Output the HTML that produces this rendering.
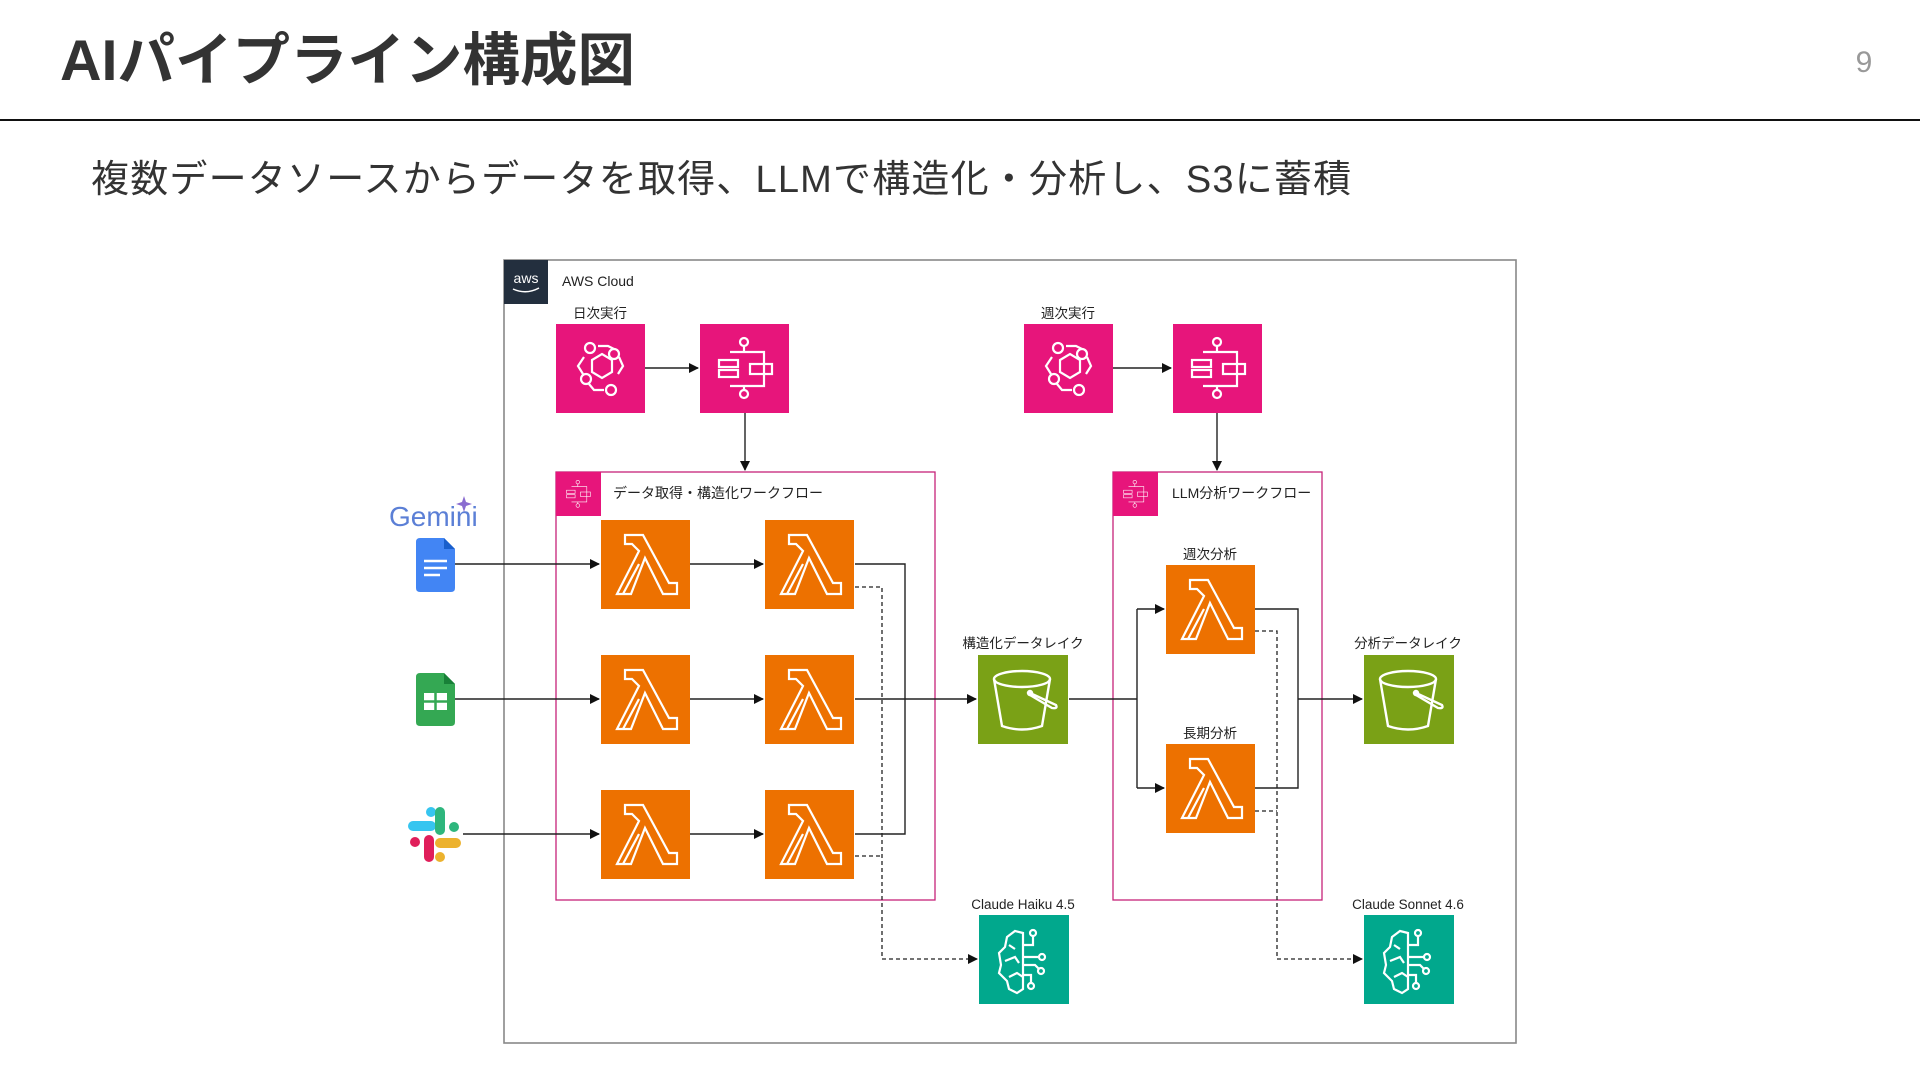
<!DOCTYPE html>
<html><head><meta charset="utf-8"><style>
html,body{margin:0;padding:0;background:#fff;width:1920px;height:1080px;overflow:hidden}
svg{display:block}
text{font-family:"Liberation Sans","Noto Sans CJK JP",sans-serif}
</style></head><body>
<svg width="1920" height="1080" viewBox="0 0 1920 1080" xmlns="http://www.w3.org/2000/svg">
<defs>
<marker id="ar" markerWidth="10" markerHeight="10" refX="9" refY="5" orient="auto" markerUnits="userSpaceOnUse"><path d="M0,0 L10,5 L0,10 Z" fill="#111"/></marker>
<g id="eb"><rect width="89" height="89" fill="#E7157B"/><g fill="none" stroke="#fff" stroke-width="2.2">
<polygon points="36,36 46,30 56,36 56,48 46,54 36,48"/><circle cx="34" cy="24" r="5"/><circle cx="58" cy="30" r="5"/><circle cx="30" cy="55" r="5"/><circle cx="55" cy="66" r="5"/>
<path d="M42,22 H52 L58,25"/><path d="M63,33 L67,42 L62,50"/><path d="M28,33 L22,42 L27,50"/><path d="M33,60 L38,66 H48"/></g></g>
<g id="sf"><rect width="89" height="89" fill="#E7157B"/><g fill="none" stroke="#fff" stroke-width="2.2">
<circle cx="44" cy="18" r="4"/><circle cx="44" cy="70" r="4"/><path d="M44,22 V28 M44,62 V66 M30,28 H64 V62 H30"/>
<rect x="19" y="36" width="19" height="7"/><rect x="19" y="46" width="19" height="7"/><rect x="50" y="40" width="22" height="10"/></g></g>
<g id="lm"><rect width="89" height="89" fill="#ED7100"/><path d="M24,15 H42 L68,63 H76 V74 H62 L44,38 L30,74 H16 L38,31 L31,24 H24 Z M38,44 L22,74" fill="none" stroke="#fff" stroke-width="2.2" stroke-linejoin="miter"/></g>
<g id="s3"><rect width="90" height="89" fill="#7AA116"/><g fill="none" stroke="#fff" stroke-width="2.4">
<ellipse cx="44" cy="24" rx="28" ry="8"/><path d="M16,24 L24,71 Q44,78 64,71 L72,24"/><path d="M52,38 L78,50 Q80,54 74,53 L52,40"/><circle cx="52" cy="38" r="2" fill="#fff"/></g></g>
<g id="bd"><rect width="90" height="89" fill="#01A88D"/><g fill="none" stroke="#fff" stroke-width="2.2">
<path d="M44,18 L36,16 L28,22 L26,32 L20,38 L22,50 L20,58 L28,66 L30,74 L38,78 L44,74 Z"/><path d="M30,30 L36,34 M26,46 L36,42 L40,48 M30,62 L38,58 L44,62"/>
<path d="M44,30 H54 V20 M44,42 H60 M44,50 H56 L60,54 M44,60 H52 V68"/><circle cx="54" cy="18" r="3"/><circle cx="63" cy="42" r="3"/><circle cx="62" cy="56" r="3"/><circle cx="52" cy="71" r="3"/></g></g>
<g id="hdr"><rect width="45" height="44" fill="#E7157B"/><g fill="none" stroke="#fff" stroke-width="1.3" transform="translate(2,2) scale(0.45)">
<circle cx="44" cy="18" r="4"/><circle cx="44" cy="70" r="4"/><path d="M44,22 V28 M44,62 V66 M30,28 H64 V62 H30"/>
<rect x="19" y="36" width="19" height="7"/><rect x="19" y="46" width="19" height="7"/><rect x="50" y="40" width="22" height="10"/></g></g>
</defs>

<text x="60" y="80" font-size="57.5" font-weight="bold" fill="#333">AIパイプライン構成図</text>
<text x="1864" y="72" font-size="30" fill="#999" text-anchor="middle">9</text>
<rect x="0" y="119" width="1920" height="2" fill="#111"/>
<text x="91" y="192" font-size="38" letter-spacing="1.2" fill="#333">複数データソースからデータを取得、LLMで構造化・分析し、S3に蓄積</text>

<rect x="504" y="260" width="1012" height="783" fill="none" stroke="#888" stroke-width="1.6"/>
<rect x="504" y="260" width="44" height="44" fill="#232F3E"/>
<text x="526" y="283" font-size="14" fill="#fff" text-anchor="middle">aws</text>
<path d="M513,289 Q526,295 539,288" fill="none" stroke="#fff" stroke-width="1.5"/>
<text x="562" y="286" font-size="14" fill="#222">AWS Cloud</text>

<rect x="556" y="472" width="379" height="428" fill="none" stroke="#C7227A" stroke-width="1.3"/>
<use href="#hdr" x="556" y="472"/>
<text x="613" y="498" font-size="14" fill="#222">データ取得・構造化ワークフロー</text>
<rect x="1113" y="472" width="209" height="428" fill="none" stroke="#C7227A" stroke-width="1.3"/>
<use href="#hdr" x="1113" y="472"/>
<text x="1172" y="498" font-size="14" fill="#222">LLM分析ワークフロー</text>

<g font-size="13.5" fill="#222" text-anchor="middle">
<text x="600" y="318">日次実行</text>
<text x="1068" y="318">週次実行</text>
<text x="1210" y="559">週次分析</text>
<text x="1210" y="738">長期分析</text>
<text x="1023" y="648">構造化データレイク</text>
<text x="1408" y="648">分析データレイク</text>
<text x="1023" y="909">Claude Haiku 4.5</text>
<text x="1408" y="909">Claude Sonnet 4.6</text>
</g>

<use href="#eb" x="556" y="324"/><use href="#sf" x="700" y="324"/>
<use href="#eb" x="1024" y="324"/><use href="#sf" x="1173" y="324"/>
<use href="#lm" x="601" y="520"/><use href="#lm" x="765" y="520"/>
<use href="#lm" x="601" y="655"/><use href="#lm" x="765" y="655"/>
<use href="#lm" x="601" y="790"/><use href="#lm" x="765" y="790"/>
<use href="#lm" x="1166" y="565"/><use href="#lm" x="1166" y="744"/>
<use href="#s3" x="978" y="655"/><use href="#s3" x="1364" y="655"/>
<use href="#bd" x="979" y="915"/><use href="#bd" x="1364" y="915"/>

<text x="389" y="526" font-size="28" fill="#5B7FD6">Gemini</text>
<path d="M464,496 l2,6 6,2 -6,2 -2,6 -2,-6 -6,-2 6,-2z" fill="#8A6CD0"/>
<path d="M420,538 H444 L455,549 V588 Q455,592 451,592 H420 Q416,592 416,588 V542 Q416,538 420,538Z" fill="#4285F4"/>
<path d="M444,538 L455,549 H444Z" fill="#1A5FCC"/>
<g stroke="#fff" stroke-width="2.5"><path d="M424,561 H447 M424,568 H447 M424,575 H440"/></g>
<path d="M420,673 H444 L455,684 V722 Q455,726 451,726 H420 Q416,726 416,722 V677 Q416,673 420,673Z" fill="#34A853"/>
<path d="M444,673 L455,684 H444Z" fill="#188038"/>
<rect x="424" y="693" width="23" height="17" fill="#fff"/><g stroke="#34A853" stroke-width="2.5"><path d="M435.5,693 V710 M424,701.5 H447"/></g>
<g stroke-linecap="round" stroke-width="10">
<path d="M413,826 H431" stroke="#36C5F0"/><path d="M431,812 V812" stroke="#36C5F0"/>
<path d="M440,812 V830" stroke="#2EB67D"/><path d="M454,827 V827" stroke="#2EB67D"/>
<path d="M440,843 H456" stroke="#ECB22E"/><path d="M440,857 V857" stroke="#ECB22E"/>
<path d="M429,840 V857" stroke="#E01E5A"/><path d="M415,842 V842" stroke="#E01E5A"/>
</g>

<g stroke="#222" stroke-width="1.4" fill="none">
<path d="M645,368 H698" marker-end="url(#ar)"/>
<path d="M1113,368 H1171" marker-end="url(#ar)"/>
<path d="M745,413 V470" marker-end="url(#ar)"/>
<path d="M1217,413 V470" marker-end="url(#ar)"/>
<path d="M455,564 H599" marker-end="url(#ar)"/>
<path d="M455,699 H599" marker-end="url(#ar)"/>
<path d="M463,834 H599" marker-end="url(#ar)"/>
<path d="M690,564 H763" marker-end="url(#ar)"/>
<path d="M690,699 H763" marker-end="url(#ar)"/>
<path d="M690,834 H763" marker-end="url(#ar)"/>
<path d="M855,564 H905 V834 H855"/>
<path d="M855,699 H976" marker-end="url(#ar)"/>
<path d="M1069,699 H1137"/>
<path d="M1137,609 V788"/>
<path d="M1137,609 H1164" marker-end="url(#ar)"/>
<path d="M1137,788 H1164" marker-end="url(#ar)"/>
<path d="M1255,609 H1298 V788 H1255"/>
<path d="M1298,699 H1362" marker-end="url(#ar)"/>
</g>
<g stroke="#222" stroke-width="1.3" fill="none" stroke-dasharray="4,3">
<path d="M855,587 H882 V959 H977" marker-end="url(#ar)"/>
<path d="M855,856 H882"/>
<path d="M1255,631 H1277 V959 H1362" marker-end="url(#ar)"/>
<path d="M1255,811 H1277"/>
</g>
</svg>
</body></html>
